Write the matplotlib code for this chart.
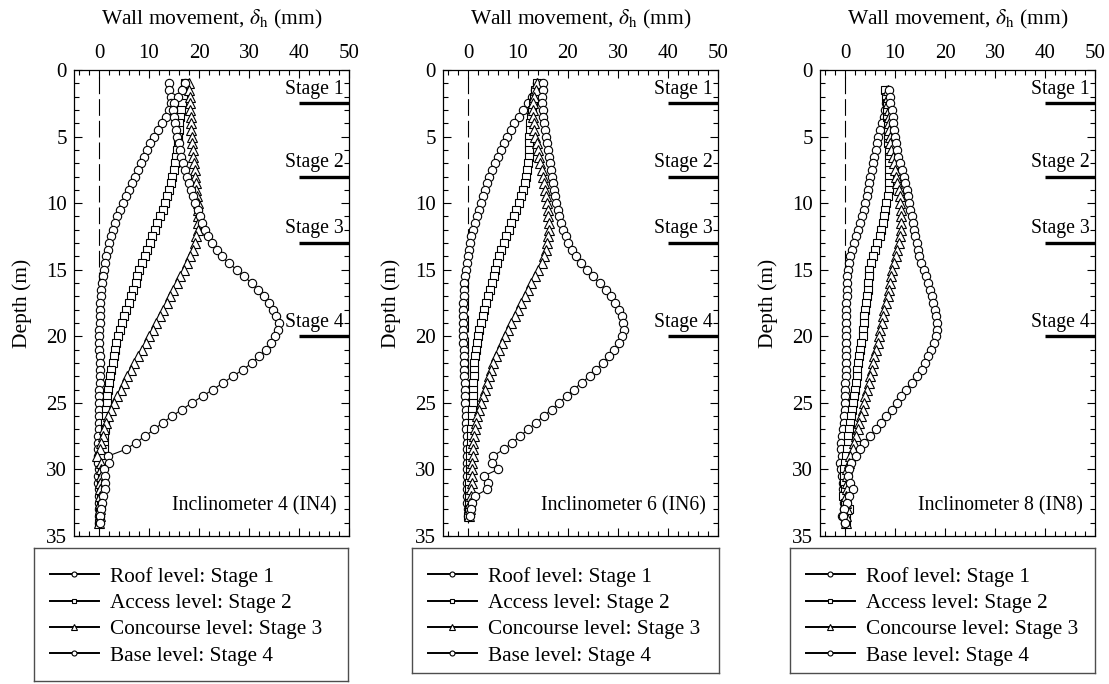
import matplotlib
matplotlib.use("Agg")
import matplotlib.pyplot as plt
from matplotlib.ticker import MultipleLocator

plt.rcParams['font.family'] = ['Liberation Serif', 'DejaVu Serif']
plt.rcParams['mathtext.fontset'] = 'stix'

# depth of inclinometer readings (m)
depth = [1.0, 1.5, 2.0, 2.5, 3.0, 3.5, 4.0, 4.5, 5.0, 5.5,
         6.0, 6.5, 7.0, 7.5, 8.0, 8.5, 9.0, 9.5, 10.0, 10.5,
         11.0, 11.5, 12.0, 12.5, 13.0, 13.5, 14.0, 14.5, 15.0, 15.5,
         16.0, 16.5, 17.0, 17.5, 18.0, 18.5, 19.0, 19.5, 20.0, 20.5,
         21.0, 21.5, 22.0, 22.5, 23.0, 23.5, 24.0, 24.5, 25.0, 25.5,
         26.0, 26.5, 27.0, 27.5, 28.0, 28.5, 29.0, 29.5, 30.0, 30.5,
         31.0, 31.5, 32.0, 32.5, 33.0, 33.5, 34.0]
depth_in4 = depth
depth_in6 = depth[:-1]
depth_in8 = depth[1:]

# wall movement (mm), IN4
roof_in4 = [13.9, 14.0, 14.3, 14.4, 14.0, 13.3, 12.6, 11.7, 11.0, 10.2,
            9.5, 8.9, 8.3, 7.7, 7.1, 6.5, 5.9, 5.3, 4.8, 4.1,
            3.5, 3.1, 2.7, 2.3, 2.0, 1.7, 1.4, 1.2, 0.9, 0.7,
            0.5, 0.4, 0.3, 0.2, 0.2, 0.1, 0.1, 0.0, 0.0, 0.0,
            0.0, 0.1, 0.1, 0.1, 0.1, 0.1, 0.0, 0.0, 0.0, 0.0,
            0.0, -0.1, -0.1, -0.2, -0.2, -0.3, -0.3, -0.2, -0.1, -0.2,
            -0.2, -0.1, -0.1, -0.1, 0.0, -0.1, 0.0]
access_in4 = [17.1, 16.9, 16.7, 16.5, 16.3, 16.1, 16.0, 15.9, 15.8, 15.7,
              15.6, 15.4, 15.2, 14.9, 14.6, 14.3, 14.0, 13.6, 13.2, 12.7,
              12.2, 11.6, 11.1, 10.6, 10.1, 9.6, 9.1, 8.6, 8.0, 7.6,
              7.3, 6.7, 6.3, 5.9, 5.3, 4.9, 4.5, 4.1, 3.7, 3.4,
              3.1, 2.9, 2.7, 2.4, 2.1, 1.9, 1.8, 1.6, 1.5, 1.3,
              1.3, 1.2, 1.1, 1.0, 0.9, 0.9, 0.8, 0.7, 0.6, 0.5,
              0.4, 0.4, 0.3, 0.3, 0.2, 0.1, 0.0]
conc_in4 = [17.9, 18.0, 18.1, 18.1, 18.2, 18.3, 18.4, 18.4, 18.5, 18.6,
            18.7, 18.8, 18.9, 19.1, 19.2, 19.3, 19.4, 19.6, 19.7, 19.8,
            19.8, 19.8, 19.7, 19.4, 19.1, 18.7, 18.2, 17.6, 16.9, 16.2,
            15.5, 14.8, 14.1, 13.5, 12.8, 12.1, 11.4, 10.7, 10.0, 9.3,
            8.5, 7.8, 7.0, 6.3, 5.6, 4.9, 4.3, 3.6, 3.0, 2.4,
            1.8, 1.4, 1.0, 0.7, 0.3, 0.1, -0.4, 0.4, 0.3, 0.3,
            0.2, 0.2, 0.2, 0.1, 0.1, 0.1, 0.0]
base_in4 = [17.2, 16.6, 15.8, 15.0, 14.7, 14.9, 15.1, 15.3, 15.6, 15.9,
            16.1, 16.4, 16.8, 17.2, 17.6, 18.0, 18.3, 18.7, 19.1, 19.7,
            20.1, 20.6, 21.1, 21.8, 22.6, 23.5, 24.5, 26.0, 27.5, 29.0,
            30.5, 31.8, 32.9, 33.9, 34.8, 35.4, 35.9, 35.8, 35.2, 34.4,
            33.4, 32.0, 30.6, 28.8, 26.8, 24.8, 22.8, 20.7, 18.6, 16.6,
            14.6, 12.7, 11.0, 9.2, 7.4, 5.3, 1.8, 2.0, 1.0, 1.2,
            1.2, 1.2, 0.8, 0.6, 0.4, 0.2, 0.2]

# wall movement (mm), IN6
roof_in6 = [13.8, 13.4, 12.8, 12.0, 11.0, 10.1, 9.2, 8.5, 7.8, 7.1,
            6.5, 5.9, 5.3, 4.7, 4.2, 3.7, 3.3, 2.9, 2.5, 2.1,
            1.7, 1.3, 0.9, 0.6, 0.3, 0.1, -0.1, -0.3, -0.5, -0.7,
            -0.8, -0.9, -0.9, -1.0, -1.0, -1.0, -1.0, -1.0, -1.0, -1.0,
            -0.9, -0.9, -0.9, -0.8, -0.8, -0.7, -0.7, -0.6, -0.6, -0.5,
            -0.5, -0.4, -0.4, -0.3, -0.3, -0.3, -0.3, -0.3, -0.3, -0.2,
            -0.2, -0.3, -0.3, -0.2, -0.1, 0.0]
access_in6 = [13.7, 13.4, 13.1, 12.9, 12.7, 12.5, 12.4, 12.3, 12.2, 12.2,
              12.1, 12.1, 12.0, 11.8, 11.6, 11.3, 11.0, 10.6, 10.1, 9.6,
              9.1, 8.6, 8.1, 7.6, 7.1, 6.6, 6.2, 5.8, 5.4, 5.1,
              4.8, 4.4, 4.0, 3.6, 3.2, 2.9, 2.5, 2.2, 1.9, 1.7,
              1.5, 1.3, 1.2, 1.1, 1.1, 1.0, 1.0, 0.9, 0.9, 0.8,
              0.8, 0.7, 0.6, 0.5, 0.5, 0.4, 0.4, 0.3, 0.3, 0.3,
              0.2, 0.2, 0.2, 0.1, 0.1, 0.0]
conc_in6 = [13.8, 13.5, 13.2, 13.0, 12.9, 13.0, 13.1, 13.2, 13.4, 13.7,
            13.9, 14.1, 14.4, 14.7, 14.9, 15.1, 15.3, 15.5, 15.7, 15.9,
            16.0, 16.1, 16.1, 16.0, 15.8, 15.5, 15.2, 14.8, 14.0, 13.3,
            12.6, 12.0, 11.3, 10.6, 10.0, 9.3, 8.6, 8.0, 7.3, 6.7,
            6.1, 5.5, 5.0, 4.5, 4.1, 3.7, 3.3, 2.9, 2.5, 2.1,
            1.8, 1.5, 1.3, 1.1, 1.0, 0.9, 0.9, 0.8, 0.8, 0.7,
            0.7, 0.6, 0.5, 0.4, 0.3, 0.2]
base_in6 = [15.0, 14.9, 14.8, 14.8, 14.9, 15.0, 15.2, 15.3, 15.5, 15.7,
            15.9, 16.1, 16.3, 16.5, 16.7, 16.9, 17.1, 17.4, 17.6, 17.9,
            18.2, 18.6, 19.0, 19.5, 20.0, 20.7, 21.5, 22.5, 23.8, 25.0,
            26.3, 27.5, 28.5, 29.4, 30.2, 30.7, 31.0, 31.1, 30.8, 30.2,
            29.2, 28.2, 26.9, 25.6, 24.3, 22.7, 21.1, 19.7, 18.2, 16.7,
            15.1, 13.6, 12.0, 10.4, 8.8, 7.1, 5.0, 4.7, 6.0, 3.1,
            4.0, 3.8, 1.4, 0.8, 0.5, 0.3]

# wall movement (mm), IN8
roof_in8 = [8.3, 8.3, 8.2, 8.0, 7.7, 7.3, 6.9, 6.6, 6.3, 6.1,
            5.8, 5.6, 5.3, 5.0, 4.8, 4.5, 4.3, 4.0, 3.7, 3.4,
            3.0, 2.6, 2.1, 1.7, 1.3, 0.9, 0.7, 0.5, 0.4, 0.3,
            0.3, 0.3, 0.2, 0.2, 0.2, 0.2, 0.2, 0.2, 0.2, 0.2,
            0.2, 0.1, 0.1, 0.1, 0.0, 0.0, 0.0, -0.1, -0.1, -0.2,
            -0.3, -0.5, -0.7, -0.9, -0.8, -0.7, -1.1, -0.9, -0.7, -0.5,
            -0.4, -0.3, -0.2, -0.2, -0.6, 0.0]
access_in8 = [8.0, 8.1, 8.3, 8.3, 8.4, 8.5, 8.5, 8.6, 8.6, 8.7,
              8.7, 8.8, 8.8, 8.8, 8.8, 8.7, 8.5, 8.2, 8.0, 7.7,
              7.5, 7.2, 6.9, 6.4, 6.0, 5.6, 5.1, 4.8, 4.7, 4.6,
              4.5, 4.3, 4.1, 3.9, 3.8, 3.7, 3.6, 3.5, 3.2, 3.0,
              2.7, 2.5, 2.4, 2.3, 2.1, 2.0, 1.8, 1.6, 1.3, 1.1,
              0.9, 0.7, 0.5, 0.5, 0.3, 0.2, 0.0, -0.2, -0.2, -0.2,
              0.0, -0.4, 0.0, 0.8, 0.1, 0.1]
conc_in8 = [8.5, 8.6, 8.6, 8.7, 8.7, 8.8, 8.8, 8.9, 9.0, 9.2,
            9.5, 9.7, 9.9, 10.1, 10.4, 10.7, 10.9, 11.0, 11.1, 11.1,
            11.2, 11.1, 10.9, 10.7, 10.4, 10.1, 9.8, 9.4, 9.1, 8.9,
            8.7, 8.5, 8.1, 7.8, 7.5, 7.3, 7.0, 6.7, 6.5, 6.1,
            5.8, 5.6, 5.3, 5.0, 4.7, 4.3, 4.0, 3.7, 3.5, 3.1,
            2.8, 2.5, 2.1, 1.8, 1.5, 0.9, 0.7, 0.4, 0.3, 0.3,
            0.3, 0.2, 0.2, 0.4, 0.2, 0.1]
base_in8 = [8.7, 8.9, 9.0, 9.3, 9.5, 9.6, 9.8, 10.0, 10.1, 10.3,
            10.6, 10.9, 11.3, 11.7, 12.0, 12.3, 12.5, 12.8, 13.0, 13.3,
            13.5, 13.8, 14.0, 14.3, 14.5, 14.8, 15.2, 15.7, 16.1, 16.5,
            16.9, 17.3, 17.6, 17.9, 18.1, 18.3, 18.3, 18.1, 17.7, 17.1,
            16.5, 16.0, 15.3, 14.3, 13.3, 12.1, 11.1, 10.3, 9.3, 8.1,
            7.1, 6.1, 5.0, 3.8, 2.9, 2.1, 1.1, 0.8, 0.5, 0.9,
            1.5, 0.8, 0.3, -0.2, -0.5, 0.0]

labels = ['Roof level: Stage 1', 'Access level: Stage 2',
          'Concourse level: Stage 3', 'Base level: Stage 4']
markers = ['o', 's', '^', 'o']
stage_names = ['Stage 1', 'Stage 2', 'Stage 3', 'Stage 4']
stage_depths = [2.5, 8, 13, 20]

panels = [
    ('Inclinometer 4 (IN4)', depth_in4, [roof_in4, access_in4, conc_in4, base_in4]),
    ('Inclinometer 6 (IN6)', depth_in6, [roof_in6, access_in6, conc_in6, base_in6]),
    ('Inclinometer 8 (IN8)', depth_in8, [roof_in8, access_in8, conc_in8, base_in8]),
]

W, H = 1109, 684
fig = plt.figure(figsize=(W / 100, H / 100), dpi=100)

ax_left = [74, 443, 820]
ax_w = 275
ax_top, ax_bot = 70, 536
leg_boxes = [(34, 348, 548, 681), (412, 719, 548, 673), (790, 1095, 548, 673)]

FS_TICK = 15
FS_LAB = 15.5
FS_NOTE = 14.2
FS_LEG = 15.3

for i, (name, d, series) in enumerate(panels):
    ax = fig.add_axes([ax_left[i] / W, 1 - ax_bot / H, ax_w / W, (ax_bot - ax_top) / H])

    ax.plot([0, 0], [0.5, 34], color='black', lw=0.8, dashes=(15, 4.5), zorder=1)

    lines = []
    for vals, m, lab in zip(series, markers, labels):
        ms = 6.8 if m == '^' else (5.4 if m == 's' else 6.0)
        ln, = ax.plot(vals, d, color='black', lw=0.8, marker=m, ms=ms,
                      mfc='white', mec='black', mew=0.8, label=lab, zorder=3)
        lines.append(ln)

    for s_name, s_d in zip(stage_names, stage_depths):
        ax.plot([40, 50], [s_d, s_d], color='black', lw=2.4,
                solid_capstyle='butt', clip_on=False, zorder=4)
        ax.text(49, s_d - 0.35, s_name, ha='right', va='bottom', fontsize=FS_NOTE)

    ax.text(47.5, 32.7, name, ha='right', va='center', fontsize=FS_NOTE)

    ax.set_xlim(-5, 50)
    ax.set_ylim(35, 0)
    ax.xaxis.set_major_locator(MultipleLocator(10))
    ax.xaxis.set_minor_locator(MultipleLocator(2))
    ax.yaxis.set_major_locator(MultipleLocator(5))
    ax.yaxis.set_minor_locator(MultipleLocator(1))
    ax.tick_params(which='both', direction='in', top=True, bottom=True,
                   left=True, right=True, labeltop=True, labelbottom=False,
                   labelsize=FS_TICK, width=0.8)
    ax.tick_params(which='major', length=6, pad=5)
    ax.tick_params(which='minor', length=3.5)
    for sp in ax.spines.values():
        sp.set_linewidth(0.9)

    ax.xaxis.set_label_position('top')
    ax.set_xlabel(r'Wall movement, $\delta_{\mathrm{h}}$ (mm)', fontsize=FS_LAB, labelpad=14)
    ax.set_ylabel('Depth (m)', fontsize=FS_LAB, labelpad=10)

    # legend in its own framed box below the plot
    x0, x1, y0, y1 = leg_boxes[i]
    lax = fig.add_axes([x0 / W, 1 - y1 / H, (x1 - x0) / W, (y1 - y0) / H])
    lax.set_xticks([])
    lax.set_yticks([])
    for sp in lax.spines.values():
        sp.set_linewidth(1.0)
        sp.set_color('0.3')
    leg = lax.legend(handles=lines, loc='upper left',
                     bbox_to_anchor=(16 / (x1 - x0), 1 - 19 / (y1 - y0)),
                     borderaxespad=0, borderpad=0, frameon=False, fontsize=FS_LEG,
                     handlelength=2.3, handletextpad=0.5, labelspacing=0.3,
                     markerscale=0.6)
    for h in leg.legend_handles:
        h.set_linewidth(1.4)

fig.savefig('out.png', dpi=100)
